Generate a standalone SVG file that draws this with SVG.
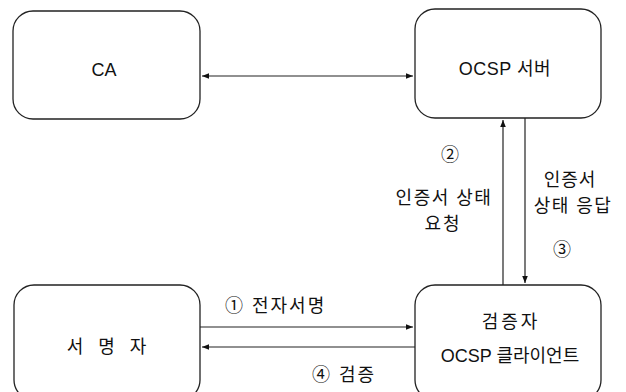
<svg xmlns="http://www.w3.org/2000/svg" width="626" height="392" viewBox="0 0 626 392">
<defs>
<marker id="ah" viewBox="0 0 10 10" refX="10" refY="5" markerWidth="8" markerHeight="7" markerUnits="userSpaceOnUse" orient="auto-start-reverse">
<path d="M0,1 L10,5 L0,9 z" fill="#111"/>
</marker>
<style>
.box{fill:#fff;stroke:#222;stroke-width:1.3}
.ln{fill:none;stroke:#222;stroke-width:1.2}
text{font-family:"Liberation Sans","Noto Sans CJK KR",sans-serif;fill:#111;font-size:18px}
.c{text-anchor:middle}
</style>
</defs>
<rect width="626" height="392" fill="#fff"/>
<g id="ca">
<rect class="box" x="13" y="11" width="187" height="108" rx="20"/>
<text class="c" x="104" y="76" font-size="19">CA</text>
</g>
<g id="ocsp-server">
<rect class="box" x="415" y="9" width="186" height="109" rx="20"/>
<text class="c" x="505" y="75" font-size="19" letter-spacing="0.5">OCSP 서버</text>
</g>
<g id="signer">
<rect class="box" x="14" y="285" width="186" height="115" rx="20"/>
<text class="c" x="109" y="353" font-size="19" letter-spacing="5">서 명 자</text>
</g>
<g id="verifier">
<rect class="box" x="415" y="285" width="186" height="115" rx="20"/>
<text class="c" x="511" y="328" font-size="19" letter-spacing="3">검증자</text>
<text class="c" x="510" y="362" font-size="19">OCSP 클라이언트</text>
</g>
<g id="connectors">
<line class="ln" x1="202" y1="76" x2="413" y2="76" marker-start="url(#ah)" marker-end="url(#ah)"/>
<line class="ln" x1="503" y1="285" x2="503" y2="120" marker-end="url(#ah)"/>
<line class="ln" x1="525" y1="118" x2="525" y2="283" marker-end="url(#ah)"/>
<line class="ln" x1="200" y1="327" x2="413" y2="327" marker-end="url(#ah)"/>
<line class="ln" x1="415" y1="347" x2="202" y2="347" marker-end="url(#ah)"/>
</g>
<g id="labels">
<text class="c" x="450" y="161">②</text>
<text class="c" x="444" y="204" letter-spacing="1.5">인증서 상태</text>
<text class="c" x="443" y="230" letter-spacing="2">요청</text>
<text class="c" x="570" y="186" letter-spacing="1">인증서</text>
<text class="c" x="573" y="212" letter-spacing="1.5">상태 응답</text>
<text class="c" x="562" y="256">③</text>
<text x="225" y="312" letter-spacing="2">① 전자서명</text>
<text x="312" y="381" letter-spacing="2">④ 검증</text>
</g>
</svg>
